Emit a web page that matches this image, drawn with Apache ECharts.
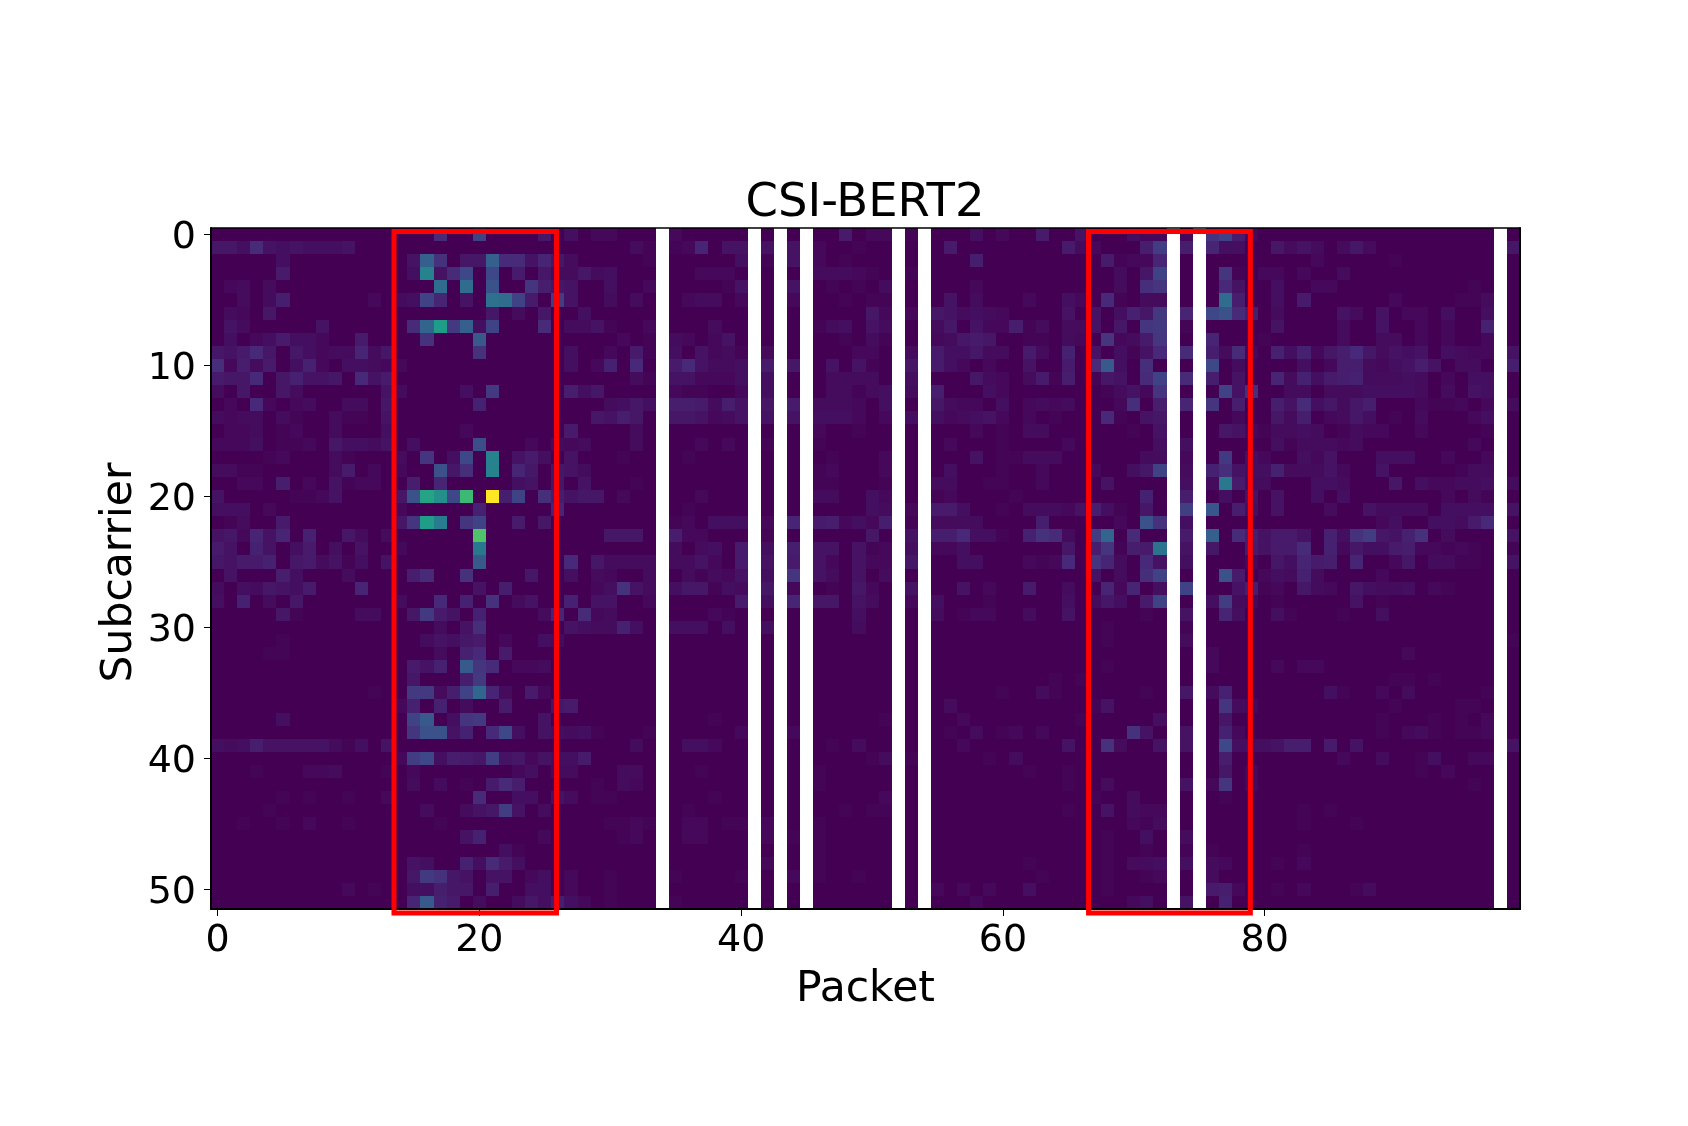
<!DOCTYPE html>
<html>
<head>
<meta charset="utf-8">
<style>html,body{margin:0;padding:0;background:#fff}#chart{width:1688px;height:1126px}</style>
<script src="https://cdn.jsdelivr.net/npm/echarts@6/dist/echarts.min.js"></script>
</head>
<body>
<div id="chart"></div>
<script>
// Each row is one subcarrier, written as packet,value pairs (value in % of the maximum; packets not listed read as 0).
const row00=[17,12,20,20,25,6,27,4,29,2,30,2,35,2,48,7,50,2,51,2,53,1,58,4,60,2,63,7,66,5,70,4,71,2,72,2,74,2,76,15,77,20,78,8,79,2];
const row01=[0,6,1,6,2,4,3,12,4,5,5,4,6,5,7,4,8,4,9,4,10,5,32,3,33,1,35,1,36,2,37,10,39,5,40,5,42,5,44,5,46,2,49,1,56,7,65,7,66,3,67,2,71,8,72,18,74,8,76,10,77,4,78,4,81,6,82,3,83,5,84,3,86,3,87,6,88,3,99,6];
const row02=[5,4,15,5,16,30,17,14,19,6,20,6,21,30,22,12,23,12,24,5,25,10,26,6,27,3,33,1,40,4,42,1,44,5,46,2,48,1,58,8,68,7,69,1,70,2,71,2,72,10,84,2,90,1];
const row03=[5,7,15,4,16,45,17,5,18,12,19,22,21,22,23,7,25,6,26,3,27,3,28,6,29,3,30,4,37,2,38,2,39,2,46,3,47,3,48,3,49,2,50,1,53,1,69,3,71,6,72,20,77,15,78,1,80,2,81,2,83,2,86,3];
const row04=[1,2,2,3,4,3,17,35,19,35,21,25,24,15,25,8,26,6,27,5,30,4,33,2,39,1,40,5,44,5,47,1,49,1,51,3,58,2,69,3,71,13,72,15,77,11,78,5,81,4,84,2,85,2,96,1];
const row05=[2,3,4,3,5,8,12,2,14,3,15,4,16,20,17,10,19,5,21,37,22,35,23,20,24,7,26,18,27,5,30,3,32,3,36,2,37,3,38,3,40,2,44,2,48,1,50,1,51,1,56,5,58,3,62,2,65,4,66,2,68,11,69,1,71,3,72,3,77,35,78,8,81,4,83,7,90,2,95,1,96,1,97,3];
const row06=[1,3,2,2,4,6,21,6,23,3,25,6,28,4,50,6,51,2,53,2,55,6,56,5,57,3,58,4,59,3,60,2,65,5,67,5,69,4,70,9,71,6,72,17,74,10,76,22,77,25,78,12,79,8,81,3,86,5,87,3,89,5,91,2,92,2,94,4,97,4];
const row07=[1,5,2,3,8,5,15,12,16,32,17,55,18,17,19,30,20,4,21,20,25,12,27,3,28,3,29,5,30,1,33,2,38,3,46,1,47,3,48,4,50,5,51,3,55,3,56,6,58,5,59,2,60,2,61,8,62,1,63,3,65,3,66,3,67,5,69,6,71,15,72,17,74,1,81,5,86,3,89,5,92,2,94,2,97,9];
const row08=[1,4,3,2,4,4,5,7,6,4,7,4,8,2,11,7,16,14,20,28,31,2,33,1,35,3,36,2,38,2,39,5,48,1,50,3,51,1,55,2,56,3,57,6,58,7,59,6,62,1,63,1,65,3,66,2,68,15,69,2,70,3,71,7,72,16,76,10,80,1,86,3,89,3,90,3,92,2,94,2,97,2];
const row09=[0,6,1,5,2,7,3,11,4,6,6,6,7,4,8,2,9,3,10,3,11,10,12,3,13,6,20,14,27,4,30,2,32,7,33,1,35,4,37,5,38,2,39,3,40,1,42,3,49,2,50,2,53,3,55,7,56,4,57,4,58,6,59,3,60,3,62,7,63,3,65,9,67,5,69,4,70,1,71,5,72,11,74,12,76,8,77,3,78,12,79,2,81,9,82,4,83,9,84,2,85,6,86,8,87,11,88,6,89,3,90,5,91,4,92,5,94,4,95,3,96,2,97,2,99,5];
const row10=[0,13,1,2,2,8,3,3,4,7,6,4,7,9,8,2,10,4,11,4,12,3,13,2,14,2,27,4,29,2,30,9,32,11,35,7,36,11,37,5,38,3,39,3,40,4,42,7,44,6,47,5,49,5,50,1,53,6,55,7,56,4,57,2,59,2,62,5,65,7,67,12,68,28,69,4,71,13,76,22,78,3,83,4,85,2,86,8,87,8,88,3,89,2,90,4,91,5,92,8,93,5,95,3,96,3,99,8];
const row11=[0,7,1,6,2,6,3,11,5,6,6,9,7,5,8,5,9,6,11,11,12,5,13,7,32,3,33,1,35,5,36,5,37,2,38,2,39,2,40,4,42,4,47,3,48,3,49,3,50,3,53,4,58,6,59,3,60,2,62,3,63,7,64,1,65,8,67,1,68,6,69,5,71,12,72,20,74,12,76,8,78,5,81,10,82,3,83,9,84,4,85,7,86,8,87,9,88,3,89,3,90,3,91,4,92,3,94,2,96,4,97,4];
const row12=[0,3,2,6,5,6,6,3,13,5,14,3,19,4,21,17,27,8,28,4,29,6,35,2,36,1,37,1,40,2,42,4,47,3,48,3,49,1,50,3,51,4,53,3,55,8,59,4,60,2,68,1,69,3,70,5,71,2,72,15,77,20,78,5,79,13,82,3,83,3,85,3,86,3,87,3,88,4,89,4,90,4,91,4,92,3,94,3,96,5,97,4];
const row13=[1,2,3,11,4,2,6,2,7,3,10,3,11,3,13,6,20,9,30,3,31,4,32,6,33,4,35,8,36,8,37,7,38,3,39,8,40,5,42,6,44,7,46,3,47,3,48,3,49,2,51,4,55,6,56,3,57,2,58,2,60,4,62,2,63,3,64,2,65,3,69,2,70,13,72,8,74,10,76,15,78,8,81,8,82,5,83,12,84,4,85,6,86,3,87,6,88,8,92,2,93,1,94,1,95,2,97,2,99,3];
const row14=[0,3,1,2,2,3,3,3,5,3,6,1,9,3,10,1,11,1,13,5,29,6,30,5,31,8,32,6,35,6,36,6,37,5,38,2,39,3,40,5,42,5,44,5,46,4,47,4,48,4,49,2,51,2,53,4,55,4,56,2,57,3,58,4,59,5,60,2,62,2,64,1,68,11,69,1,71,5,72,6,78,2,81,6,82,3,83,8,85,2,86,3,87,6,88,4,90,1,92,3,96,2,97,4];
const row15=[1,2,2,2,3,3,5,1,6,2,9,3,13,4,19,2,27,7,32,3,46,2,49,1,58,2,60,1,62,3,63,3,70,1,72,5,77,6,78,5,79,2,80,1,81,3,82,3,83,4,84,3,86,1,87,3,88,2,89,2,92,2,97,1];
const row16=[0,2,1,2,2,2,3,4,5,1,6,1,7,2,9,6,10,4,11,4,12,3,13,5,15,4,20,24,24,2,26,3,27,2,28,3,32,3,37,2,39,2,42,1,46,1,56,2,60,1,65,2,72,4,74,4,81,4,82,1,83,3,84,3,85,3,86,2,87,3,96,2];
const row17=[4,1,5,2,9,3,10,1,14,3,16,15,18,4,19,22,21,45,23,5,24,7,25,4,27,5,31,1,36,1,47,1,51,2,58,5,60,1,61,1,62,3,63,3,64,3,71,3,72,3,74,2,77,17,79,4,80,2,83,4,84,2,85,5,89,4,90,4,91,4,94,2,97,2];
const row18=[0,3,1,3,2,1,3,1,9,3,10,7,12,2,14,2,17,25,18,6,19,13,21,45,23,10,24,6,26,6,27,5,28,3,46,1,47,2,51,2,56,4,60,1,63,2,67,2,70,4,71,6,72,20,74,3,76,9,77,13,78,5,79,4,80,4,81,9,82,3,83,3,84,3,85,5,86,2,89,5,95,1,96,3,97,3];
const row19=[2,2,3,2,5,8,7,2,9,5,10,1,11,2,12,2,15,8,17,10,23,4,24,5,26,6,28,5,32,1,46,1,47,1,51,1,55,3,56,3,59,1,60,1,63,2,68,5,74,4,76,3,77,40,78,7,79,3,80,3,84,4,85,4,86,3,90,6,92,4,93,2,94,2,95,3,96,3,97,4,99,3];
const row20=[0,5,6,1,7,1,8,2,9,5,14,6,15,25,16,58,17,50,18,22,19,68,21,100,22,8,23,20,25,13,26,8,27,5,28,6,29,6,31,2,37,2,46,3,47,3,50,4,51,2,55,1,56,2,61,1,71,9,74,8,77,4,79,5,81,5,84,4,86,4,94,2,96,3,97,1];
const row21=[0,4,1,4,2,4,4,2,14,2,20,9,26,10,36,1,50,4,51,3,53,2,55,7,56,7,57,4,60,1,62,3,63,3,64,3,65,2,66,5,67,8,68,4,69,1,71,6,74,19,76,27,78,8,79,4,81,5,85,3,88,5,89,3,90,3,91,3,92,3,94,4,95,4,96,4,97,4,99,5];
const row22=[1,1,2,3,5,7,14,6,15,15,16,55,17,42,19,15,20,20,23,7,25,6,35,1,36,2,38,4,39,4,40,4,42,2,44,10,46,7,47,8,48,2,49,4,50,2,51,8,53,1,55,3,56,3,57,3,58,3,63,8,69,2,71,25,72,14,74,4,89,2,90,4,93,4,94,4,95,3,96,7,97,11];
const row23=[0,5,1,6,2,2,3,10,4,5,5,10,7,9,10,6,11,3,13,3,20,72,30,6,31,6,32,6,35,8,36,2,37,2,42,1,50,6,53,5,55,8,56,8,57,11,58,4,59,4,60,1,62,9,63,14,64,12,65,3,67,18,68,32,70,12,74,7,76,30,78,12,79,8,80,5,81,7,82,7,83,5,85,9,86,4,87,14,88,18,89,6,90,5,91,9,92,14,94,3,99,5];
const row24=[0,7,1,5,3,9,4,5,6,4,7,7,9,4,11,5,14,2,20,40,35,3,37,3,38,4,40,7,42,4,44,8,46,5,47,5,49,5,50,1,51,2,53,4,55,2,56,2,57,4,65,6,67,8,68,15,69,1,70,8,71,7,72,38,74,5,76,6,79,7,80,5,81,7,82,7,83,12,85,9,86,2,87,6,88,4,89,4,90,7,91,8,92,2,93,2,94,1,95,2,96,1,99,1];
const row25=[0,6,1,5,2,7,3,7,4,9,6,6,7,7,8,3,9,5,10,1,11,4,13,5,20,28,27,11,29,6,30,3,31,3,32,3,33,3,35,3,36,3,37,5,38,2,40,7,42,5,44,7,46,5,47,2,49,5,50,2,51,2,53,6,57,4,58,4,62,2,63,1,64,2,65,11,67,15,68,10,69,3,71,11,72,5,74,4,79,2,81,6,82,4,83,10,84,7,85,8,87,10,90,2,91,6,93,3,94,3,95,1,96,1,99,5];
const row26=[1,5,5,8,6,4,10,3,15,8,16,12,19,14,24,6,27,4,29,3,30,2,33,3,36,3,37,1,38,3,39,2,40,5,42,4,44,15,46,5,47,3,49,5,51,3,67,5,69,3,71,13,72,20,77,25,78,7,80,2,81,4,82,3,83,9,84,3,89,2];
const row27=[0,3,2,4,3,3,4,6,5,5,6,4,7,7,11,10,20,5,22,8,29,2,30,4,31,14,32,5,33,3,35,4,36,6,37,6,38,1,39,4,40,3,42,6,44,2,47,1,49,6,50,2,53,5,57,5,59,2,62,7,65,3,68,10,69,2,70,10,72,4,74,20,78,5,79,8,80,1,81,2,83,6,84,3,85,2,87,6,88,4,89,3,90,3,91,4,93,2,94,1];
const row28=[0,4,2,9,4,3,6,6,14,3,17,11,19,9,21,14,23,3,24,5,27,9,29,5,30,5,33,2,40,7,42,4,44,10,46,6,47,6,49,5,50,3,53,2,55,4,59,1,65,4,67,3,68,6,69,4,71,7,72,20,76,4,77,18,78,3,79,2,81,1,87,5,89,1];
const row29=[5,6,6,1,11,3,12,3,15,6,16,17,17,7,18,5,20,9,25,3,26,10,28,12,29,2,30,3,38,2,39,1,49,4,55,3,57,1,58,2,59,2,62,3,65,5,71,1,74,5,77,10,78,4,81,4,82,1,86,1,89,4];
const row30=[17,3,19,5,20,13,27,5,28,4,29,3,30,3,31,9,32,4,35,4,36,4,37,4,39,4,42,4,49,3,68,1,74,1];
const row31=[5,1,16,3,17,5,18,4,19,6,20,7,22,2,25,4,26,3,68,1,74,3,99,1];
const row32=[4,1,5,1,17,3,19,9,20,11,22,7,76,2,91,2];
const row33=[15,7,16,5,17,9,19,28,20,15,21,12,23,2,24,2,25,3,68,1,76,2,81,2,83,2,84,2];
const row34=[15,6,19,8,20,17,64,1,66,1,90,1,91,1,93,1];
const row35=[12,1,15,17,16,17,17,3,18,8,19,20,20,33,21,10,22,3,24,7,25,2,60,1,63,3,64,1,71,1,74,6,76,3,77,9,85,4,86,1,89,2,91,3,97,1];
const row36=[14,2,15,9,17,9,19,3,22,7,26,6,27,7,56,3,67,1,68,5,77,15,78,3,79,2,90,1,95,1,96,1];
const row37=[5,4,15,20,16,28,18,4,19,15,20,17,25,5,38,1,51,1,57,2,66,1,72,4,77,6,89,1,93,1,95,1,97,2];
const row38=[15,15,16,25,17,25,18,5,19,9,21,11,22,22,23,4,25,5,26,4,27,3,28,4,29,1,33,1,40,2,44,2,56,1,58,3,60,1,61,2,63,2,70,14,71,5,74,5,77,9,78,2,89,1,91,2,92,3,93,1,95,1,96,1,97,2];
const row39=[0,4,1,3,2,4,3,8,4,5,5,5,6,5,7,5,8,5,9,3,10,1,11,4,13,5,32,3,36,4,37,4,38,2,47,1,49,3,57,2,65,5,68,14,69,3,72,5,74,5,77,22,78,4,79,4,80,4,81,5,82,8,83,8,85,7,87,5,99,5];
const row40=[14,2,15,18,16,22,17,4,18,8,19,7,20,6,21,18,22,5,23,6,24,2,25,5,26,4,27,4,28,7,50,1,51,3,53,1,59,1,61,3,77,8,86,2,89,3,92,1,93,4,96,2,97,2];
const row41=[3,1,7,2,8,2,9,3,13,1,15,2,23,2,24,4,26,3,27,3,31,3,32,3,37,1,46,1,62,1,65,1,77,6,79,2,92,1,94,2];
const row42=[15,3,17,3,19,1,21,7,22,12,23,8,29,1,31,3,32,2,46,1,65,1,68,3,74,5,76,2,77,15,79,2,96,1];
const row43=[5,1,7,1,10,1,13,2,20,12,23,4,24,4,26,5,27,3,29,1,30,1,38,1,51,2,67,1,70,3,77,1];
const row44=[4,1,16,3,19,3,20,5,21,6,22,18,23,5,25,3,36,1,48,1,50,1,51,1,65,1,68,5,70,3,71,2,72,2,83,1,85,1];
const row45=[2,1,5,1,7,2,10,1,17,1,30,1,31,1,32,2,33,1,36,2,37,2,39,1,40,1,42,2,46,1,70,2,71,1,72,3,83,1,87,1];
const row46=[19,5,20,9,25,2,31,1,32,2,36,2,37,2,42,2,44,1,46,1,68,1,71,4,74,3];
const row47=[22,4,23,1,46,1,68,1,71,1,74,1,76,1,83,1];
const row48=[15,5,16,4,19,9,20,4,21,12,22,7,23,4,42,2,46,1,62,1,68,1,70,3,71,3,72,4,74,4,76,3,77,2,81,1,83,2];
const row49=[15,6,16,17,17,14,18,6,19,5,21,5,22,5,24,2,25,4,27,2,30,1,35,1,40,1,44,2,46,1,49,1,63,1,68,1,71,1,72,2,76,3];
const row50=[10,2,12,1,15,4,16,4,17,8,18,6,19,6,21,8,24,4,25,4,27,2,30,1,55,2,57,2,59,2,62,4,68,1,76,7,77,8,78,2,81,1,83,2,87,1,88,3];
const row51=[15,10,16,28,17,9,18,7,20,3,23,3,24,6,25,4,26,8,27,4,28,2,30,1,35,1,58,2,70,2,71,4,74,5,77,9];

const subcarrierRows=[row00,row01,row02,row03,row04,row05,row06,row07,row08,row09,row10,row11,row12,row13,row14,row15,row16,row17,row18,row19,row20,row21,row22,row23,row24,row25,row26,row27,row28,row29,row30,row31,row32,row33,row34,row35,row36,row37,row38,row39,row40,row41,row42,row43,row44,row45,row46,row47,row48,row49,row50,row51];
const missingPackets=[34,41,43,45,52,54,73,75,98];
const packetCount=100;
const xTickLabels=[0,20,40,60,80];
const yTickLabels=[0,10,20,30,40,50];
// [packet from, packet to, subcarrier from, subcarrier to]
const redBoxes=[[13.48,25.9,-0.23,51.8],[66.54,78.9,-0.23,51.8]];
const viridis=['#440154','#482878','#3e4989','#31688e','#26828e','#1f9e89','#35b779','#6ece58','#b5de2b','#fde725'];

const packets=Array.from({length:packetCount},(_,i)=>String(i));
const subcarriers=subcarrierRows.map((_,i)=>String(i));
const cells=[];
subcarrierRows.forEach((row,r)=>{
  const vals=new Array(packetCount).fill(0);
  for(let i=0;i<row.length;i+=2) vals[row[i]]=row[i+1];
  vals.forEach((v,c)=>{ if(!missingPackets.includes(c)) cells.push([c,r,v]); });
});

const font='"DejaVu Sans"';
const chart=echarts.init(document.getElementById('chart'),null,{renderer:'canvas'});
chart.setOption({
  animation:false,
  backgroundColor:'#ffffff',
  title:{text:'CSI-BERT2',left:860,top:175,textAlign:'center',
    textStyle:{fontFamily:font,fontSize:46.5,fontWeight:'normal',color:'#000'}},
  grid:{left:211,top:228,width:1309,height:681,containLabel:false},
  xAxis:[
    {type:'category',data:packets,position:'bottom',z:5,
     name:'Packet',nameLocation:'middle',nameGap:59,
     nameTextStyle:{fontFamily:font,fontSize:42.5,color:'#000'},
     axisLine:{show:true,onZero:false,lineStyle:{color:'#000',width:2}},
     axisTick:{show:true,alignWithLabel:true,length:7,lineStyle:{color:'#000',width:1},customValues:xTickLabels},
     axisLabel:{show:true,fontFamily:font,fontSize:38,color:'#000',margin:13,customValues:xTickLabels},
     splitLine:{show:false}},
    {type:'value',min:-0.5,max:99.5,position:'top',z:5,
     axisLine:{show:true,onZero:false,lineStyle:{color:'#000',width:1.5}},
     axisTick:{show:false},axisLabel:{show:false},splitLine:{show:false}}
  ],
  yAxis:[
    {type:'category',data:subcarriers,inverse:true,position:'left',z:5,
     name:'Subcarrier',nameLocation:'middle',nameGap:70,nameRotate:90,nameMoveOverlap:false,
     nameTextStyle:{fontFamily:font,fontSize:42.5,color:'#000',padding:[0,8,0,0]},
     axisLine:{show:true,onZero:false,lineStyle:{color:'#000',width:2}},
     axisTick:{show:true,alignWithLabel:true,length:7,lineStyle:{color:'#000',width:1},customValues:yTickLabels},
     axisLabel:{show:true,color:'#000',margin:15,customValues:yTickLabels,
       formatter:'{t|{value}}',
       rich:{t:{fontFamily:font,fontSize:38,color:'#000',padding:[7,0,0,0]}}},
     splitLine:{show:false}},
    {type:'value',min:-0.5,max:51.5,inverse:true,position:'right',z:5,
     axisLine:{show:true,onZero:false,lineStyle:{color:'#000',width:2}},
     axisTick:{show:false},axisLabel:{show:false},splitLine:{show:false}}
  ],
  visualMap:{show:false,min:0,max:100,seriesIndex:0,dimension:2,inRange:{color:viridis}},
  series:[
    {type:'custom',xAxisIndex:1,yAxisIndex:1,data:cells,clip:true,z:2,silent:true,progressive:0,
     encode:{x:0,y:1},
     renderItem:(params,api)=>{
       const c=api.value(0), r=api.value(1);
       const a=api.coord([c-0.5,r-0.5]);
       const b=api.coord([c+0.5,r+0.5]);
       const x0=Math.round(a[0]), y0=Math.round(a[1]);
       return {type:'rect',shape:{x:x0,y:y0,width:Math.round(b[0])-x0,height:Math.round(b[1])-y0},
         style:{fill:api.visual('color'),stroke:null}};
     }},
    {type:'custom',xAxisIndex:1,yAxisIndex:1,data:redBoxes,clip:false,z:10,silent:true,
     encode:{x:[0,1],y:[2,3]},
     renderItem:(params,api)=>{
       const a=api.coord([api.value(0),api.value(2)]);
       const b=api.coord([api.value(1),api.value(3)]);
       return {type:'rect',shape:{x:a[0],y:a[1],width:b[0]-a[0],height:b[1]-a[1]},
         style:{fill:null,stroke:'#ff0000',lineWidth:5}};
     }}
  ]
});
</script>
</body>
</html>
